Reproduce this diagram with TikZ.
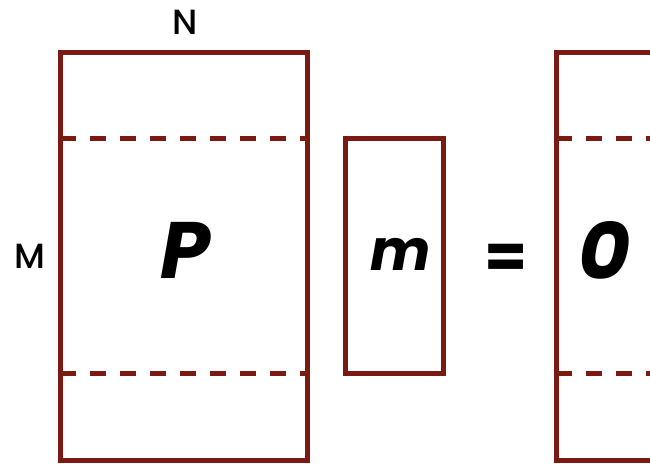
\documentclass[tikz,border=0pt]{standalone}
\usepackage{fontspec}
\setmainfont{Poppins}
\newfontfamily\dimfont{Poppins Medium}
\definecolor{matred}{HTML}{7A1A12}
\tikzset{
  box/.style={draw=matred, line width=5pt},
  cut/.style={draw=matred, line width=5pt, dash pattern=on 16pt off 14pt},
  dimlabel/.style={font=\dimfont\fontsize{35}{35}\selectfont, inner sep=0pt},
  symb/.style={font=\fontsize{80}{80}\selectfont\bfseries\itshape, inner sep=0pt}
}
\begin{document}
\begin{tikzpicture}[x=1pt, y=-1pt, line cap=butt, line join=miter]
	\useasboundingbox (0,0) rectangle (650,463);
	\begin{scope}
		\clip (0,0) rectangle (650,463);
		% matrix P
		\draw[box] (60,52) rectangle (307,460);
		\draw[cut] (60,138) -- (307,138) (60,373) -- (307,373);
		% vector m
		\draw[box] (345,138) rectangle (443,373);
		% right hand side
		\draw[box] (556,52) rectangle (760,460);
		\draw[cut] (556,138) -- (760,138) (556,373) -- (760,373);
	\end{scope}
	\node[dimlabel] (n) at (185,22) {N};
	\node[dimlabel] (mm) at (30,256) {M};
	\node[symb] (p) at (185,250) {P};
	\node[symb, font=\fontsize{57}{57}\selectfont\bfseries\itshape] (v) at (401,254) {m};
	\node[symb, font=\fontsize{62}{62}\selectfont\bfseries] (eq) at (506,261) {=};
	\node[symb] (zero) at (605,250) {0};
\end{tikzpicture}
\end{document}
